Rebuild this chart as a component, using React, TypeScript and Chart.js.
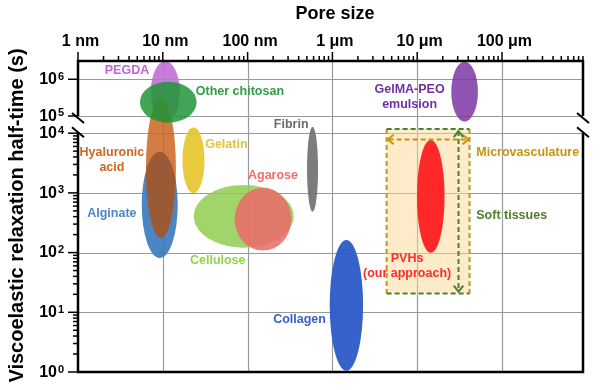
import React, { useEffect, useRef } from "react";
import { Chart, registerables } from "chart.js";

Chart.register(...registerables);

const FONT = '"Liberation Sans", Arial, Helvetica, sans-serif';

// ---------- axis configuration ----------
const xTickNm = [1, 10, 100, 1000, 10000, 100000];
const xTickLabels = ["1 nm", "10 nm", "100 nm", "1 \u03bcm", "10 \u03bcm", "100 \u03bcm"];
const yTickSeconds = [1, 10, 100, 1000, 10000, 100000, 1000000];
const yTickExponents = ["0", "1", "2", "3", "4", "5", "6"];
const X_LOG_MAX = 5.955;
const Y_U_MAX = 5.209;
const GAP_U = 0.288; // axis units taken by the broken 10^4 -> 10^5 span
const UPPER_DECADE_U = 0.615; // compressed upper panel decade

// ---------- materials (ellipses) ----------
const materialNames = [
  "PEGDA", "Alginate", "Hyaluronic acid", "Other chitosan", "Gelatin",
  "Cellulose", "Agarose", "Fibrin", "Collagen", "GelMA-PEO emulsion", "PVHs",
];
const materialCenterNm = [10.7, 9.2, 9.5, 11.6, 23, 90, 152, 583, 1462, 36200, 14450];
const materialHalfWidthDecades = [0.171, 0.212, 0.177, 0.334, 0.13, 0.589, 0.334, 0.065, 0.197, 0.157, 0.163];
const materialMinSeconds = [3.9e4, 81, 176, 4.1e4, 985, 121, 108, 484, 1.05, 4.7e4, 99.6];
const materialMaxSeconds = [3.1e6, 4840, 3.1e5, 8.6e5, 2.2e4, 1357, 1222, 2.4e4, 163, 3.0e6, 7690];
const materialColors = [
  "rgba(192,112,212,0.9)",
  "rgba(55,120,190,0.9)",
  "rgba(205,100,35,0.85)",
  "rgba(30,150,55,0.85)",
  "rgba(228,196,40,0.9)",
  "rgba(145,205,80,0.85)",
  "rgba(235,105,105,0.85)",
  "rgba(110,110,110,0.9)",
  "rgba(45,90,200,0.95)",
  "rgba(125,55,165,0.85)",
  "rgba(255,40,40,1)",
];
const overlapPairs = [[1, 2]]; // alginate ∩ hyaluronic acid
const overlapColors = ["#9a5a35"];

// ---------- reference region (microvasculature / soft tissues) ----------
const microMinNm = 4360;
const microMaxNm = 41400;
const softMinSeconds = 20.6;
const softMaxSeconds = 17500;
const microArrowSeconds = 7840;
const softArrowNm = 30700;

// ---------- text labels ----------
const labelTexts = [
  "PEGDA", "Other chitosan", "GelMA-PEO\nemulsion", "Fibrin", "Hyaluronic\nacid",
  "Gelatin", "Agarose", "Alginate", "Cellulose", "Collagen",
  "PVHs\n(our approach)", "Microvasculature", "Soft tissues",
];
const labelNm = [3.78, 24.5, 8130, 204, 2.51, 31.6, 101, 2.51, 20.9, 200, 7600, 49700, 49700];
const labelSeconds = [1.71e6, 4.6e5, 3.3e5, 3.0e4, 3556, 6340, 1920, 455, 75, 7.6, 59.7, 4710, 410];
const labelAlign = ["center", "left", "center", "left", "center", "left", "left", "center", "left", "left", "center", "left", "left"];
const labelColors = [
  "#c264d6", "#2f9e44", "#7030a0", "#6b6b6b", "#d0661f", "#e3c43a", "#ee6e6e",
  "#4a86c8", "#92d050", "#3561c6", "#ff2a2a", "#c8960a", "#4e7f2c",
];

function toU(s: number): number {
  const l = Math.log10(s);
  if (l <= 4) return l;
  if (l <= 5) return 4 + (l - 4) * GAP_U;
  return 4 + GAP_U + (l - 5) * UPPER_DECADE_U;
}

function chevron(ctx: CanvasRenderingContext2D, tx: number, ty: number, dx: number, dy: number, size: number, color: string) {
  const bx = tx - dx * size, by = ty - dy * size;
  const nx = -dy, ny = dx;
  ctx.save();
  ctx.setLineDash([]);
  ctx.strokeStyle = color;
  ctx.lineWidth = 2;
  ctx.beginPath();
  ctx.moveTo(bx + nx * size * 0.8, by + ny * size * 0.8);
  ctx.lineTo(tx, ty);
  ctx.lineTo(bx - nx * size * 0.8, by - ny * size * 0.8);
  ctx.stroke();
  ctx.restore();
}

const drawPlugin = {
  id: "poreSizeDraw",
  beforeDatasetsDraw(chart: any) {
    const ctx: CanvasRenderingContext2D = chart.ctx;
    const { left, right, top, bottom } = chart.chartArea;
    const xs = chart.scales.x, ys = chart.scales.y;
    ctx.save();
    ctx.fillStyle = "#ffffff";
    ctx.fillRect(0, 0, chart.width, chart.height);
    ctx.strokeStyle = "#9a9a9a";
    ctx.lineWidth = 1.2;
    xTickNm.forEach((nm, i) => {
      if (i === 0) return;
      const x = Math.round(xs.getPixelForValue(Math.log10(nm))) + 0.5;
      ctx.beginPath();
      ctx.moveTo(x, top);
      ctx.lineTo(x, bottom);
      ctx.stroke();
    });
    yTickSeconds.forEach((s, i) => {
      if (i === 0) return;
      const y = Math.round(ys.getPixelForValue(toU(s))) + 0.5;
      ctx.beginPath();
      ctx.moveTo(left, y);
      ctx.lineTo(right, y);
      ctx.stroke();
    });
    ctx.restore();
  },
  afterDatasetsDraw(chart: any) {
    const ctx: CanvasRenderingContext2D = chart.ctx;
    const { left, right, top, bottom } = chart.chartArea;
    const xs = chart.scales.x, ys = chart.scales.y;
    const px = (nm: number) => xs.getPixelForValue(Math.log10(nm));
    const py = (s: number) => ys.getPixelForValue(toU(s));

    const ellipsePath = (i: number) => {
      const c = materialCenterNm[i];
      const hw = Math.pow(10, materialHalfWidthDecades[i]);
      const x1 = px(c / hw), x2 = px(c * hw);
      const y1 = py(materialMaxSeconds[i]), y2 = py(materialMinSeconds[i]);
      ctx.beginPath();
      ctx.ellipse((x1 + x2) / 2, (y1 + y2) / 2, (x2 - x1) / 2, (y2 - y1) / 2, 0, 0, Math.PI * 2);
    };

    ctx.save();
    const last = materialNames.length - 1;
    for (let i = 0; i < last; i++) {
      ellipsePath(i);
      ctx.fillStyle = materialColors[i];
      ctx.fill();
      overlapPairs.forEach((p, k) => {
        if (p[1] === i) {
          ctx.save();
          ellipsePath(p[0]);
          ctx.clip();
          ellipsePath(p[1]);
          ctx.fillStyle = overlapColors[k];
          ctx.fill();
          ctx.restore();
        }
      });
    }

    // reference region
    const rx1 = px(microMinNm), rx2 = px(microMaxNm);
    const ry1 = py(softMaxSeconds), ry2 = py(softMinSeconds);
    ctx.fillStyle = "rgba(251,215,149,0.5)";
    ctx.fillRect(rx1, ry1, rx2 - rx1, ry2 - ry1);

    // PVHs ellipse on top
    ellipsePath(last);
    ctx.fillStyle = materialColors[last];
    ctx.fill();

    const gold = "#c8960a", green = "#4e7f2c";
    ctx.lineWidth = 2;
    ctx.setLineDash([5, 3]);
    ctx.strokeStyle = gold;
    ctx.beginPath();
    ctx.moveTo(rx1, ry1); ctx.lineTo(rx1, ry2);
    ctx.moveTo(rx2, ry1); ctx.lineTo(rx2, ry2);
    ctx.stroke();
    ctx.strokeStyle = green;
    ctx.beginPath();
    ctx.moveTo(rx1, ry1); ctx.lineTo(rx2, ry1);
    ctx.moveTo(rx1, ry2); ctx.lineTo(rx2, ry2);
    ctx.stroke();

    // microvasculature double arrow
    const ay = py(microArrowSeconds);
    ctx.strokeStyle = gold;
    ctx.beginPath();
    ctx.moveTo(rx1 + 2, ay); ctx.lineTo(rx2 - 2, ay);
    ctx.stroke();
    chevron(ctx, rx1 + 1, ay, -1, 0, 6, gold);
    chevron(ctx, rx2 - 1, ay, 1, 0, 6, gold);

    // soft tissues double arrow
    const ax = px(softArrowNm);
    ctx.setLineDash([5, 3]);
    ctx.strokeStyle = green;
    ctx.beginPath();
    ctx.moveTo(ax, ry1 + 2); ctx.lineTo(ax, ry2 - 2);
    ctx.stroke();
    chevron(ctx, ax, ry1 + 2, 0, -1, 6, green);
    chevron(ctx, ax, ry2 - 2, 0, 1, 6, green);
    ctx.setLineDash([]);

    // labels
    ctx.font = `bold 12.5px ${FONT}`;
    ctx.textBaseline = "middle";
    labelTexts.forEach((t, i) => {
      const lines = t.split("\n");
      const x = px(labelNm[i]);
      const yc = py(labelSeconds[i]);
      ctx.fillStyle = labelColors[i];
      ctx.textAlign = labelAlign[i] as CanvasTextAlign;
      lines.forEach((ln, j) => {
        ctx.fillText(ln, x, yc + (j - (lines.length - 1) / 2) * 15);
      });
    });

    // axes frame
    const y5 = py(1e5), y4 = py(1e4);
    ctx.strokeStyle = "#000";
    ctx.lineWidth = 2.5;
    ctx.beginPath();
    ctx.moveTo(left - 1.2, top); ctx.lineTo(right + 1.2, top);
    ctx.moveTo(left - 1.2, bottom); ctx.lineTo(right + 1.2, bottom);
    ctx.moveTo(left, top); ctx.lineTo(left, y5);
    ctx.moveTo(left, y4); ctx.lineTo(left, bottom);
    ctx.moveTo(right, top); ctx.lineTo(right, y5);
    ctx.moveTo(right, y4); ctx.lineTo(right, bottom);
    ctx.stroke();
    // break marks
    ctx.lineWidth = 2;
    [left, right].forEach((bx) => {
      [y5 + 2, y4 - 1].forEach((by) => {
        ctx.beginPath();
        ctx.moveTo(bx - 6, by - 5);
        ctx.lineTo(bx + 6, by + 5);
        ctx.stroke();
      });
    });

    // x ticks (top)
    ctx.lineWidth = 1.5;
    for (let d = 0; d <= 5; d++) {
      for (let k = 1; k <= 9; k++) {
        const lv = Math.log10(k * Math.pow(10, d));
        if (lv > X_LOG_MAX + 0.001) continue;
        const x = xs.getPixelForValue(lv);
        const len = k === 1 ? 9 : 5;
        ctx.beginPath();
        ctx.moveTo(x, top);
        ctx.lineTo(x, top - len);
        ctx.stroke();
      }
    }
    // y ticks (left)
    for (let d = 0; d <= 3; d++) {
      for (let k = 1; k <= 9; k++) {
        const y = ys.getPixelForValue(toU(k * Math.pow(10, d)));
        const len = k === 1 ? 10 : 5;
        ctx.beginPath();
        ctx.moveTo(left, y);
        ctx.lineTo(left - len, y);
        ctx.stroke();
      }
    }
    [1e4, 1e5, 1e6].forEach((s) => {
      const y = py(s);
      ctx.beginPath();
      ctx.moveTo(left, y);
      ctx.lineTo(left - 10, y);
      ctx.stroke();
    });

    // tick labels
    ctx.fillStyle = "#000";
    ctx.font = `bold 16px ${FONT}`;
    ctx.textAlign = "center";
    ctx.textBaseline = "middle";
    xTickNm.forEach((nm, i) => {
      ctx.fillText(xTickLabels[i], px(nm) + 2.5, 42);
    });
    yTickSeconds.forEach((s, i) => {
      const y = py(s);
      ctx.font = `bold 16px ${FONT}`;
      ctx.textAlign = "right";
      ctx.textBaseline = "middle";
      ctx.fillText("10", left - 21, y + 0.5);
      ctx.font = `bold 11px ${FONT}`;
      ctx.textAlign = "left";
      ctx.textBaseline = "alphabetic";
      ctx.fillText(yTickExponents[i], left - 20, y + 0.5);
    });

    // titles
    ctx.font = `bold 18px ${FONT}`;
    ctx.textAlign = "center";
    ctx.textBaseline = "middle";
    ctx.fillText("Pore size", 335, 14);
    ctx.save();
    ctx.translate(17, (top + bottom) / 2 - 1);
    ctx.rotate(-Math.PI / 2);
    ctx.font = `bold 20px ${FONT}`;
    ctx.fillText("Viscoelastic relaxation half-time (s)", 0, 0);
    ctx.restore();

    ctx.restore();
  },
};

export default function App() {
  const ref = useRef<HTMLCanvasElement>(null);
  useEffect(() => {
    const centers = materialNames.map((_, i) => ({
      x: Math.log10(materialCenterNm[i]),
      y: toU(Math.sqrt(materialMinSeconds[i] * materialMaxSeconds[i])),
    }));
    const chart = new Chart(ref.current as HTMLCanvasElement, {
      type: "scatter",
      data: {
        datasets: [{ label: "materials", data: centers, pointRadius: 0, pointHoverRadius: 0 }],
      },
      options: {
        animation: false,
        responsive: false,
        devicePixelRatio: 1,
        events: [],
        layout: { padding: { left: 78, right: 17, top: 61, bottom: 18 } },
        plugins: { legend: { display: false }, tooltip: { enabled: false }, title: { display: false } },
        scales: {
          x: { type: "linear", min: 0, max: X_LOG_MAX, display: false },
          y: { type: "linear", min: 0, max: Y_U_MAX, display: false },
        },
      },
      plugins: [drawPlugin],
    } as any);
    return () => chart.destroy();
  }, []);
  return (
    <div style={{ position: "absolute", left: 0, top: 0, width: 600, height: 390, background: "#fff" }}>
      <canvas ref={ref} width={600} height={390} style={{ display: "block", width: 600, height: 390 }} />
    </div>
  );
}
